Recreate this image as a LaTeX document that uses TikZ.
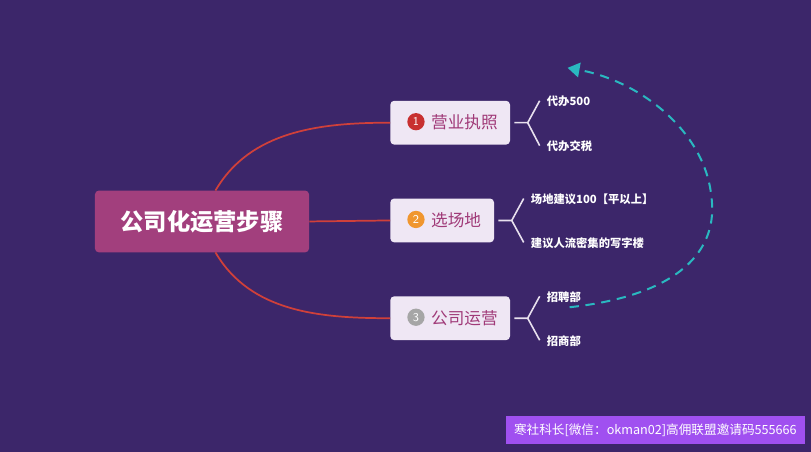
\documentclass[tikz,border=0pt]{standalone}
\usepackage{fontspec}
\newfontfamily\cjk{Noto Sans CJK SC}
\usetikzlibrary{arrows.meta}
\definecolor{bg}{HTML}{3C266A}
\definecolor{rootc}{HTML}{A23F7D}
\definecolor{boxc}{HTML}{EFE7F4}
\definecolor{txtc}{HTML}{A03A78}
\definecolor{redl}{HTML}{D0403A}
\definecolor{brk}{HTML}{E8E0EE}
\definecolor{teal}{HTML}{2AB8C0}
\definecolor{wmc}{HTML}{A050F0}
\begin{document}
\begin{tikzpicture}[x=0.75pt,y=-0.75pt,
  branch/.style={fill=boxc,rounded corners=3pt,minimum height=33pt,anchor=west,inner sep=0pt},
  btext/.style={anchor=west,inner sep=0pt,text=txtc,font=\cjk\fontsize{12.5}{14}\selectfont},
  leaf/.style={anchor=west,text=white,font=\cjk\bfseries\fontsize{8.5}{10}\selectfont,inner sep=0pt},
  num/.style={circle,inner sep=0pt,minimum size=13pt,text=white,font=\sffamily\fontsize{9}{10}\selectfont},
  brl/.style={brk,line width=1.2pt},
  conn/.style={redl,line width=1.3pt}]
\fill[bg] (-1,-1) rectangle (812,452);
\node[fill=rootc,rounded corners=3pt,minimum width=161pt,minimum height=46.5pt,text=white,font=\cjk\bfseries\fontsize{17.5}{20}\selectfont] (root) at (201.5,221) {公司化运营步骤};
\node[branch,minimum width=90pt] (b1) at (390,122) {};
\node[branch,minimum width=78pt] (b2) at (390,220) {};
\node[branch,minimum width=90pt] (b3) at (390,318) {};
\node[num,fill={rgb,255:red,200;green,48;blue,48}] (n1) at (416,121) {1};
\node[num,fill={rgb,255:red,240;green,150;blue,46}] (n2) at (416,219) {2};
\node[num,fill=gray!70] (n3) at (416,317) {3};
\node[btext] (t1) at (431,122) {营业执照};
\node[btext] (t2) at (431,220) {选场地};
\node[btext] (t3) at (431,318) {公司运营};
\draw[conn] (215,190) .. controls (250,130) and (320,122) .. (b1.west);
\draw[conn] (root.east) -- (b2.west);
\draw[conn] (215,252) .. controls (250,312) and (320,318) .. (b3.west);
\coordinate (j1) at (528,122);
\coordinate (j2) at (512,220);
\coordinate (j3) at (528,318);
\node[leaf] (l11) at (547,101) {代办500};
\node[leaf] (l12) at (547,146) {代办交税};
\node[leaf] (l21) at (531,199) {场地建议100【平以上】};
\node[leaf] (l22) at (531,243) {建议人流密集的写字楼};
\node[leaf] (l31) at (547,297) {招聘部};
\node[leaf] (l32) at (547,341) {招商部};
\draw[brl] (b1.east)++(4,0) -- (j1) -- (540,100);
\draw[brl] (j1) -- (540,145);
\draw[brl] (b2.east)++(4,0) -- (j2) -- (524,198);
\draw[brl] (j2) -- (524,242);
\draw[brl] (b3.east)++(4,0) -- (j3) -- (540,296);
\draw[brl] (j3) -- (540,340);
\draw[teal,line width=1.5pt,dash pattern=on 7pt off 5pt,-{Triangle[length=9pt,width=11pt]}] (570,307) .. controls (680,295) and (720,250) .. (712,195) .. controls (705,130) and (640,80) .. (568,67);
\fill[wmc] (506,416) rectangle (806,444);
\node[text=white,font=\cjk\fontsize{9.5}{11}\selectfont,inner sep=0pt] (wm) at (656,430) {寒社科长[微信：okman02]高佣联盟邀请码555666};
\end{tikzpicture}
\end{document}
